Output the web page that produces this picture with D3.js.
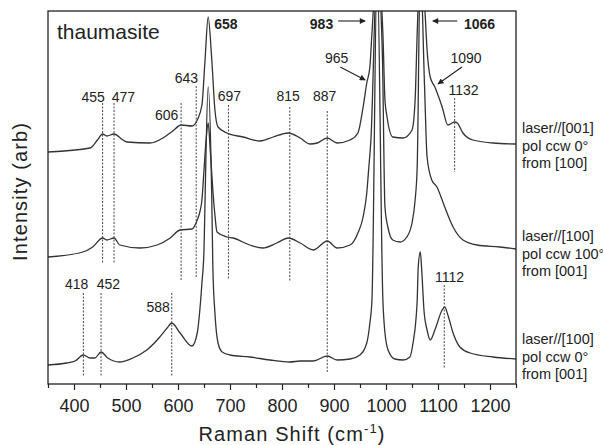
<!DOCTYPE html>
<html>
<head>
<meta charset="utf-8">
<script src="https://cdn.jsdelivr.net/npm/d3@7"></script>
<style>
  body { margin: 0; background: #fff; }
  svg { display: block; }
</style>
</head>
<body>
<svg id="chart" width="603" height="445"></svg>
<script>
// spectra: [raman shift cm-1, intensity (arb, stacked)]
const specTop = [[350,232],[431,236],[445,244],[455,250],[463,248],[477,250],[494,244],[502,242],[546,241],[571,246],[590,253],[606,259],[627,258],[637,264],[646,279],[652,324],[658,367],[665,324],[671,274],[677,257],[694,251],[725,247],[758,243],[783,247],[812,251],[835,246],[854,240],[868,241],[887,246],[906,241],[931,244],[946,251],[956,277],[963,301],[969,317],[973,351],[983,420],[994,351],[998,284],[1002,267],[1013,247],[1033,246],[1050,254],[1056,284],[1060,351],[1066,420],[1075,372],[1079,334],[1085,307],[1094,297],[1108,277],[1119,259],[1132,262],[1137,261],[1148,251],[1167,244],[1206,241],[1250,240]];

const specMid = [[350,127],[417,132],[436,137],[455,146],[463,144],[477,146],[488,139],[527,136],[560,139],[585,146],[604,154],[627,155],[637,164],[642,172],[646,184],[650,214],[654,244],[658,261],[662,234],[667,194],[671,169],[675,152],[694,147],[706,146],[738,139],[763,136],[790,141],[812,146],[835,141],[860,134],[887,143],[906,136],[931,139],[946,151],[956,167],[963,191],[967,217],[971,244],[983,420],[993,330],[998,177],[1004,156],[1013,144],[1027,142],[1040,147],[1050,161],[1056,184],[1060,217],[1066,420],[1074,300],[1079,227],[1088,204],[1098,197],[1108,184],[1113,177],[1129,157],[1148,144],[1175,139],[1219,137],[1250,135]];

const specBot = [[350,19],[386,21],[402,23],[418,29],[431,26],[440,26],[452,32],[465,26],[488,22],[513,26],[540,34],[565,47],[579,56],[588,61],[604,51],[627,38],[637,51],[642,74],[646,101],[650,134],[652,184],[658,297],[665,184],[667,117],[671,71],[677,41],[685,32],[700,29],[738,27],[777,24],[815,22],[835,23],[860,23],[887,28],[906,24],[931,25],[950,29],[963,41],[969,61],[973,84],[983,420],[994,84],[998,51],[1004,34],[1017,25],[1033,24],[1046,27],[1052,41],[1058,67],[1060,84],[1062,117],[1066,132],[1069,111],[1073,74],[1079,54],[1085,44],[1094,54],[1108,74],[1113,77],[1119,69],[1129,51],[1142,37],[1162,31],[1206,27],[1250,25]];

const spectra = [specTop, specMid, specBot];
const spectrumLabels = [
  ['laser//[001]', 'pol ccw 0°', 'from [100]'],
  ['laser//[100]', 'pol ccw 100°', 'from [001]'],
  ['laser//[100]', 'pol ccw 0°', 'from [001]']
];
const spectrumLabelY = [251, 143, 40];

// dotted peak markers
const markLabels = ['455', '477', '606', '643', '697', '815', '887', '1132', '418', '452', '588', '1112'];
const markAt = [455, 477, 606, 635, 697, 815, 887, 1132, 418, 452, 588, 1112];
const markTop = [281, 281, 281, 298, 279, 277, 273, 286, 91, 91, 91, 99];
const markBottom = [121, 121, 104, 106, 104, 102, 11, 212, 7, 7, 7, 16];
const markLabelAt = [437, 495, 578, 616, 699, 812, 882, 1149, 405, 466, 562, 1122];
const markLabelY = [282, 282, 264, 301, 283, 283, 283, 289, 95, 95, 72, 102];

// peaks labelled in bold / with arrows
const boldLabels = ['658', '983', '1066'];
const boldAt = [692, 876, 1180];
const arrowLabels = ['965', '1090'];
const arrowLabelAt = [905, 1154];
const arrows = [
  [[908, 363], [960, 363]],
  [[1137, 363], [1090, 363]],
  [[912, 317], [960, 304]],
  [[1146, 317], [1100, 300]]
];

const xTicks = [400, 500, 600, 700, 800, 900, 1000, 1100, 1200];
const xMinor = [350, 450, 550, 650, 750, 850, 950, 1050, 1150, 1250];

const svg = d3.select('#chart');
const width = 603, height = 445;
const margin = { top: 11, right: 87, bottom: 61, left: 48 };
const w = width - margin.left - margin.right;
const h = height - margin.top - margin.bottom;
const font = 'Arial, "Liberation Sans", sans-serif';
const ink = '#222';

const x = d3.scaleLinear().domain([350, 1250]).range([0, w]);
const y = d3.scaleLinear().domain([0, 373]).range([h, 0]);

const g = svg.append('g').attr('transform', `translate(${margin.left},${margin.top})`);

g.append('defs').append('clipPath').attr('id', 'plot-clip')
  .append('rect').attr('width', w).attr('height', h);

// spectra
const line = d3.line()
  .x(d => x(d[0]))
  .y(d => y(d[1]))
  .curve(d3.curveMonotoneX);

g.append('g').attr('clip-path', 'url(#plot-clip)')
  .selectAll('path')
  .data(spectra)
  .enter().append('path')
    .attr('d', line)
    .attr('fill', 'none')
    .attr('stroke', '#333')
    .attr('stroke-width', 1.3)
    .attr('stroke-linejoin', 'round');

// dotted markers + labels
g.selectAll('.mark')
  .data(markAt)
  .enter().append('line')
    .attr('class', 'mark')
    .attr('x1', d => x(d)).attr('x2', d => x(d))
    .attr('y1', (d, i) => y(markTop[i]))
    .attr('y2', (d, i) => y(markBottom[i]))
    .attr('stroke', '#444')
    .attr('stroke-width', 1)
    .attr('stroke-dasharray', '2,1.5');

g.selectAll('.mark-label')
  .data(markLabels)
  .enter().append('text')
    .attr('class', 'mark-label')
    .attr('x', (d, i) => x(markLabelAt[i]))
    .attr('y', (d, i) => y(markLabelY[i]))
    .attr('text-anchor', 'middle')
    .attr('font-size', 14)
    .attr('font-family', font)
    .attr('fill', ink)
    .text(d => d);

g.selectAll('.bold-label')
  .data(boldLabels)
  .enter().append('text')
    .attr('x', (d, i) => x(boldAt[i]))
    .attr('y', y(355))
    .attr('text-anchor', 'middle')
    .attr('font-size', 14)
    .attr('font-weight', 'bold')
    .attr('font-family', font)
    .attr('fill', ink)
    .text(d => d);

g.selectAll('.arrow-label')
  .data(arrowLabels)
  .enter().append('text')
    .attr('x', (d, i) => x(arrowLabelAt[i]))
    .attr('y', y(321))
    .attr('text-anchor', 'middle')
    .attr('font-size', 14)
    .attr('font-family', font)
    .attr('fill', ink)
    .text(d => d);

g.select('defs').append('marker')
  .attr('id', 'head')
  .attr('viewBox', '0 0 10 10')
  .attr('refX', 9).attr('refY', 5)
  .attr('markerWidth', 7).attr('markerHeight', 6)
  .attr('orient', 'auto')
  .attr('markerUnits', 'userSpaceOnUse')
  .append('path').attr('d', 'M0,0L10,5L0,10Z').attr('fill', ink);

g.selectAll('.arrow')
  .data(arrows)
  .enter().append('line')
    .attr('x1', d => x(d[0][0])).attr('y1', d => y(d[0][1]))
    .attr('x2', d => x(d[1][0])).attr('y2', d => y(d[1][1]))
    .attr('stroke', ink)
    .attr('stroke-width', 1.1)
    .attr('marker-end', 'url(#head)');

// labels on the right for each spectrum
spectrumLabels.forEach((lines, i) => {
  const t = g.append('text')
    .attr('x', w + 6)
    .attr('y', y(spectrumLabelY[i]))
    .attr('font-size', 14.5)
    .attr('font-family', font)
    .attr('fill', ink);
  lines.forEach((s, j) => {
    t.append('tspan').attr('x', w + 6).attr('dy', j == 0 ? 0 : 17.5).text(s);
  });
});

g.append('text')
  .attr('x', 9).attr('y', 28)
  .attr('font-size', 21)
  .attr('font-family', font)
  .attr('fill', ink)
  .text('thaumasite');

// x axis (major + minor ticks)
g.append('g')
  .attr('transform', `translate(0,${h})`)
  .call(d3.axisBottom(x).tickValues(xTicks).tickFormat(d3.format('d')).tickSize(6).tickPadding(9).tickSizeOuter(0))
  .call(a => a.select('.domain').remove())
  .call(a => a.selectAll('line').attr('stroke', ink).attr('stroke-width', 1.2))
  .selectAll('text')
    .attr('font-size', 18)
    .attr('font-family', font)
    .attr('fill', ink);

g.append('g')
  .attr('transform', `translate(0,${h})`)
  .call(d3.axisBottom(x).tickValues(xMinor).tickSize(4).tickFormat('').tickSizeOuter(0))
  .call(a => a.select('.domain').remove())
  .call(a => a.selectAll('line').attr('stroke', ink).attr('stroke-width', 1.2));

// frame
g.append('rect')
  .attr('width', w).attr('height', h)
  .attr('fill', 'none')
  .attr('stroke', ink)
  .attr('stroke-width', 1.3);

// axis titles
const xt = svg.append('text')
  .attr('x', margin.left + w / 2 + 10)
  .attr('y', 441)
  .attr('text-anchor', 'middle')
  .attr('font-size', 20)
  .attr('letter-spacing', 1.1)
  .attr('font-family', font)
  .attr('fill', ink);
xt.append('tspan').text('Raman Shift (cm');
xt.append('tspan').attr('dy', -8).attr('font-size', 13).text('-1');
xt.append('tspan').attr('dy', 8).text(')');

svg.append('text')
  .attr('transform', `translate(27,${margin.top + h / 2 - 6}) rotate(-90)`)
  .attr('text-anchor', 'middle')
  .attr('font-size', 20)
  .attr('letter-spacing', 1.1)
  .attr('font-family', font)
  .attr('fill', ink)
  .text('Intensity (arb)');
</script>
</body>
</html>
